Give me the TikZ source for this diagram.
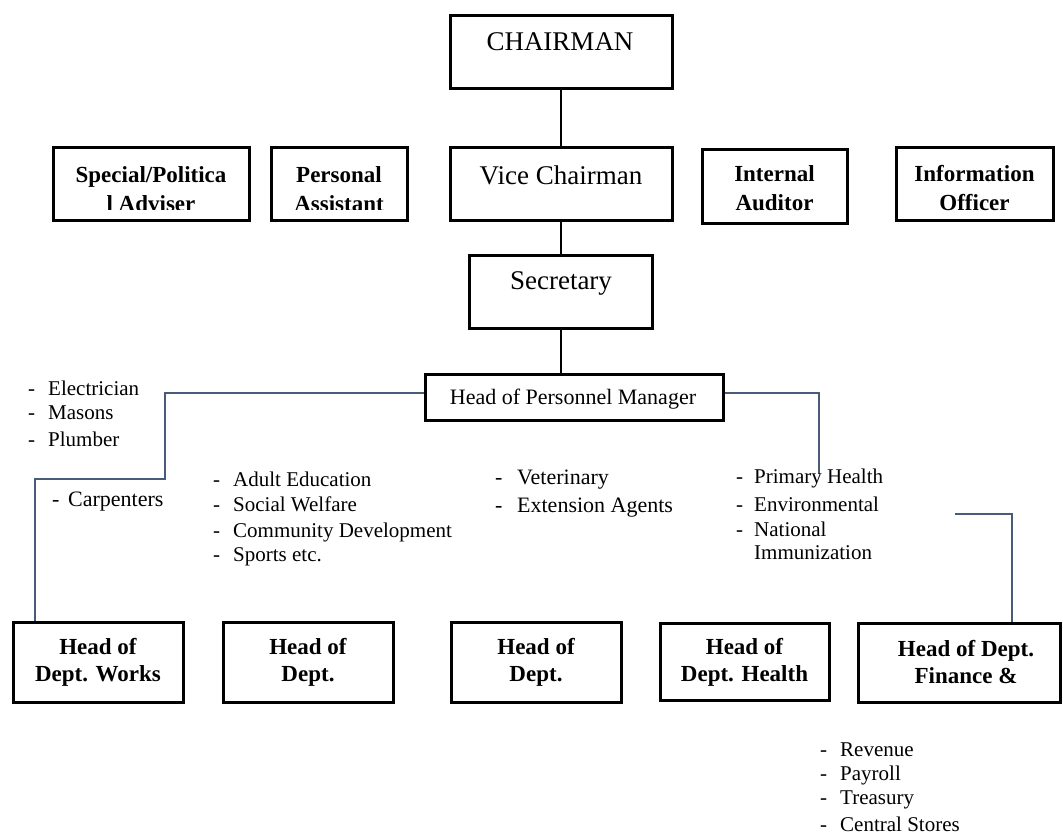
\documentclass[tikz,border=0pt]{standalone}
\usepackage{fontspec}
\setmainfont{Liberation Serif}
\definecolor{slate}{RGB}{72,92,122}
\newcommand{\dsh}[1][20pt]{\makebox[#1][l]{-}}
\begin{document}
\begin{tikzpicture}[x=1pt,y=-1pt,
  box/.style={draw=black, line width=3pt, fill=white, inner sep=0pt},
  bt/.style={font=\fontsize{23}{29}\selectfont\bfseries, align=center, inner sep=0pt},
  btb/.style={font=\fontsize{23}{27}\selectfont\bfseries, align=center, inner sep=0pt},
  rt/.style={font=\fontsize{27}{32}\selectfont, inner sep=0pt},
  item/.style={font=\fontsize{21}{25}\selectfont, anchor=west, inner sep=0pt},
  itemb/.style={font=\fontsize{22}{26}\selectfont, anchor=west, inner sep=0pt},
  link/.style={line width=2pt, black},
  conn/.style={line width=2pt, draw=slate},
]
\useasboundingbox (0,0) rectangle (1063,838);

% top rows
\node[box, minimum width=222pt, minimum height=73pt] (chair) at (561,51.5) {};
\node[box, minimum width=222pt, minimum height=73pt] (vice) at (561,183.5) {};
\node[box, minimum width=196pt, minimum height=73pt] (special) at (151,183.5) {};
\node[box, minimum width=136pt, minimum height=73pt] (personal) at (339,183.5) {};
\node[box, minimum width=145pt, minimum height=74pt] (internal) at (774.5,186) {};
\node[box, minimum width=157pt, minimum height=73pt] (info) at (974.5,183.5) {};
\node[box, minimum width=183pt, minimum height=73pt] (sec) at (561,291.5) {};
\node[box, minimum width=298pt, minimum height=46pt] (hpm) at (574,397) {};

% bottom row
\node[box, minimum width=170pt, minimum height=80pt] (works) at (98,662) {};
\node[box, minimum width=170pt, minimum height=80pt] (dept2) at (308,662) {};
\node[box, minimum width=170pt, minimum height=80pt] (dept3) at (536,662) {};
\node[box, minimum width=169pt, minimum height=77pt] (health) at (744.5,661.5) {};
\node[box, minimum width=202pt, minimum height=79pt] (fin) at (959,662.5) {};

% texts of boxes
\node[rt] (chair-t) at (560,42) {CHAIRMAN};
\node[rt] (vice-t) at (561,175) {Vice Chairman};
\node[rt] (sec-t) at (561,283) {Secretary};
\node[font=\fontsize{22}{26}\selectfont, inner sep=0pt] (hpm-t) at (573,399) {Head of Personnel Manager};
\begin{scope}
  \clip (53,147) rectangle (249,209.5);
  \node[bt] (special-t) at (151,189) {Special/Politica\\l Adviser};
\end{scope}
\begin{scope}
  \clip (271,147) rectangle (407,209.5);
  \node[bt] (personal-t) at (339,189) {Personal\\Assistant};
\end{scope}
\node[bt] (internal-t) at (774.5,188) {Internal\\Auditor};
\node[bt] (info-t) at (974.5,188) {Information\\Officer};
\node[btb] (works-t) at (98,662) {Head of\\Dept. Works};
\node[btb] (dept2-t) at (308,662) {Head of\\Dept.};
\node[btb] (dept3-t) at (536,662) {Head of\\Dept.};
\node[btb] (health-t) at (744.5,662) {Head of\\Dept. Health};
\node[btb] (fin-t) at (966,662) {Head of Dept.\\Finance \&};

% black links
\draw[link] (chair.south) -- (vice.north);
\draw[link] (vice.south) -- (sec.north);
\draw[link] (sec.south) -- (sec.south |- hpm.north);

% slate connectors
\coordinate (lb1) at (165,479);
\coordinate (lb2) at (35,479);
\draw[conn] ([yshift=4pt]hpm.west) -| (lb1) -- (lb2) -- (lb2 |- works.north);
\coordinate (rb) at (819,474);
\draw[conn] ([yshift=4pt]hpm.east) -| (rb);
\coordinate (fa) at (955,514);
\coordinate (fb) at (1012,514);
\draw[conn] (fa) -- (fb) -- (fb |- fin.north);

% lists
\node[item] (w1) at (28,388) {\dsh Electrician};
\node[item] (w2) at (28,413) {\dsh Masons};
\node[item] (w3) at (28,439) {\dsh Plumber};
\node[itemb] (w4) at (52,502) {\dsh[16pt]Carpenters};

\node[item] (a1) at (213,479) {\dsh Adult Education};
\node[item] (a2) at (213,504) {\dsh Social Welfare};
\node[item] (a3) at (213,532) {\dsh Community Development};
\node[item] (a4) at (213,557) {\dsh Sports etc.};

\node[itemb] (v1) at (495,480) {\dsh[22pt]Veterinary};
\node[itemb] (v2) at (495,508) {\dsh[22pt]Extension Agents};

\node[item] (h1) at (736,478) {\dsh[18pt]Primary Health};
\node[item] (h2) at (736,504) {\dsh[18pt]Environmental};
\node[item] (h3) at (736,529) {\dsh[18pt]National};
\node[item] (h4) at (754,553) {Immunization};

\node[item] (f1) at (820,750) {\dsh Revenue};
\node[item] (f2) at (820,775) {\dsh Payroll};
\node[item] (f3) at (820,800) {\dsh Treasury};
\node[item] (f4) at (820,824) {\dsh Central Stores};
\end{tikzpicture}
\end{document}
